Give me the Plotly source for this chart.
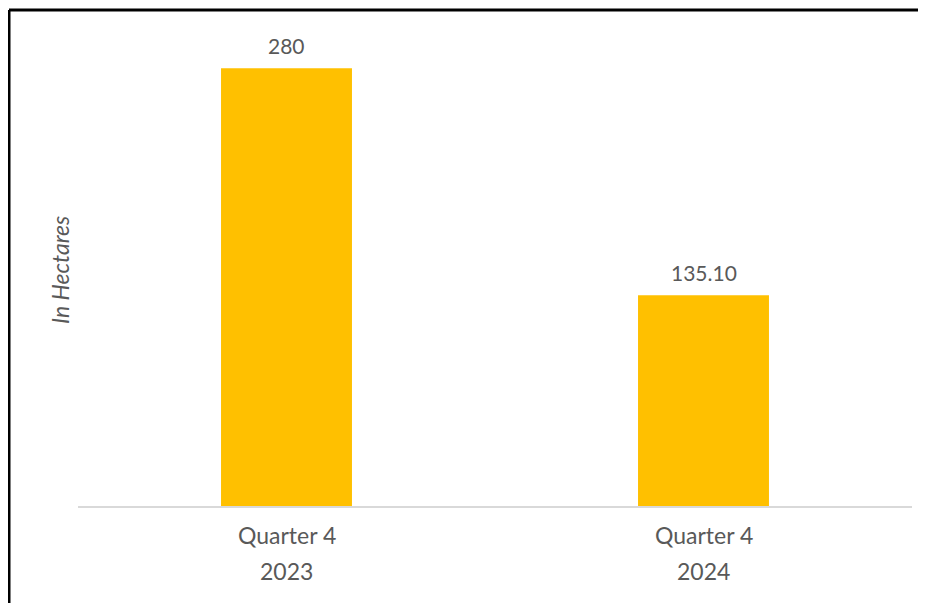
import plotly.graph_objects as go

categories = ["Quarter 4 2023", "Quarter 4 2024"]
line1 = ["Quarter 4", "Quarter 4"]
line2 = ["2023", "2024"]
values = [280, 135.10]
labels = ["280", "135.10"]

# page body has an 8px margin, so figure coords = reference coords - 8
OFF = 8
W, H = 926, 603
L = 78 - OFF
T = 37 - OFF
base = 507 - OFF
R = W - (912 - OFF)
B = H - base
pw, ph = W - L - R, H - T - B

FONT = "Lato, Open Sans, sans-serif"
GRAY = "#595959"

fig = go.Figure()
fig.add_trace(go.Bar(
    x=categories, y=values, marker=dict(color="#FFC000", line=dict(width=0)),
    hoverinfo="skip",
))

annotations = []
for c, v, t in zip(categories, values, labels):
    annotations.append(dict(x=c, xref="x", y=v, yref="y", text=t, showarrow=False,
                            yanchor="middle", yshift=23,
                            font=dict(family=FONT, size=21, color=GRAY)))
for c, a, b in zip(categories, line1, line2):
    annotations.append(dict(x=c, xref="x", y=(base - (535 - OFF)) / ph, yref="paper", text=a,
                            showarrow=False, yanchor="middle",
                            font=dict(family=FONT, size=23, color=GRAY)))
    annotations.append(dict(x=c, xref="x", y=(base - (571 - OFF)) / ph, yref="paper", text=b,
                            showarrow=False, yanchor="middle",
                            font=dict(family=FONT, size=23, color=GRAY)))
annotations.append(dict(x=(60 - OFF - L) / pw, xref="paper", y=(base - (270 - OFF)) / ph, yref="paper",
                        text="<i>In Hectares</i>", textangle=-90, showarrow=False,
                        xanchor="center", yanchor="middle",
                        font=dict(family=FONT, size=23, color=GRAY)))

xl = (9 - OFF - L) / pw
yt = (base - (10 - OFF)) / ph
shapes = [
    dict(type="line", xref="paper", yref="paper", x0=xl, x1=xl,
         y0=(base - 620) / ph, y1=yt, line=dict(color="black", width=3)),
    dict(type="line", xref="paper", yref="paper", x0=xl, x1=(940 - L) / pw,
         y0=yt, y1=yt, line=dict(color="black", width=3)),
    dict(type="line", xref="paper", yref="paper", x0=0, x1=1, y0=0, y1=0,
         line=dict(color="#D9D9D9", width=2)),
]

fig.update_layout(
    width=W, height=H, margin=dict(l=L, r=R, t=T, b=B),
    paper_bgcolor="white", plot_bgcolor="white", showlegend=False,
    bargap=0.686,
    xaxis=dict(showticklabels=False, showgrid=False, zeroline=False, showline=False, ticks=""),
    yaxis=dict(range=[0, 300], showticklabels=False, showgrid=False, zeroline=False,
               showline=False, ticks=""),
    annotations=annotations, shapes=shapes,
)
fig.write_html("out.html")
